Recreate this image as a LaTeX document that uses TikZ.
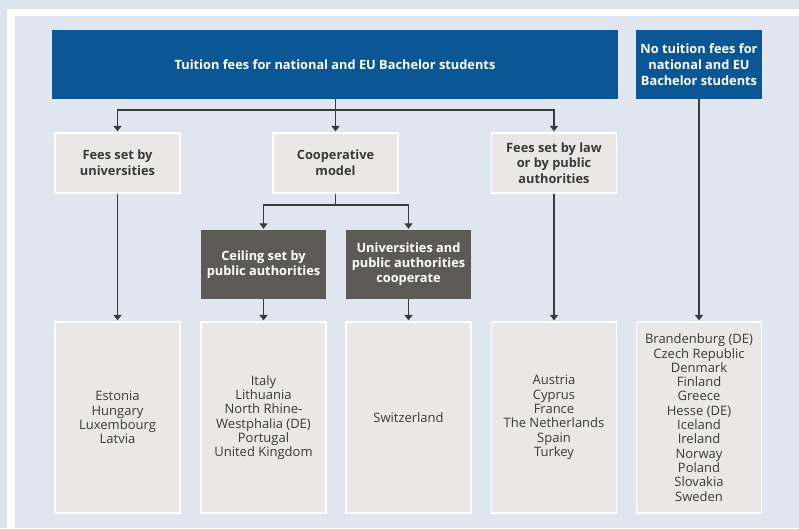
\documentclass[tikz,border=0pt]{standalone}
\usepackage{fontspec}
\setmainfont{Open Sans}
\usetikzlibrary{arrows.meta}
\definecolor{outerbg}{HTML}{DCE4EE}
\definecolor{panelbg}{HTML}{DFE6F0}
\definecolor{eublue}{HTML}{0B5795}
\definecolor{darkbox}{HTML}{5B5A55}
\definecolor{lightbox}{HTML}{E9E8E6}
\definecolor{txt}{HTML}{3A3A3A}
\definecolor{linec}{HTML}{3A3A3A}
\tikzset{
  bluebox/.style={fill=eublue, text=white, align=center, inner sep=0pt,
    font=\fontsize{12.8}{15.8}\selectfont\bfseries},
  lightbox2/.style={fill=lightbox, draw=white, line width=1.2pt, text=txt, align=center, inner sep=0pt,
    minimum width=125pt, minimum height=60pt, font=\fontsize{12.8}{15.8}\selectfont\bfseries},
  darkbox2/.style={fill=darkbox, text=white, align=center, inner sep=0pt,
    minimum width=125pt, minimum height=69pt, font=\fontsize{12.8}{15}\selectfont\bfseries},
  listbox/.style={fill=lightbox, draw=white, line width=1.2pt, text=txt, align=center, inner sep=0pt,
    minimum width=125pt, minimum height=191pt, font=\fontsize{13}{14.3}\selectfont},
  conn/.style={draw=linec, line width=1.2pt},
  arr/.style={conn, -{Triangle[width=8pt,length=5.5pt]}, shorten >=1pt}
}
\begin{document}
\begin{tikzpicture}[x=1pt,y=-1pt]
\useasboundingbox (0,0) rectangle (799,528);
\fill[outerbg] (0,0) rectangle (799,528);
\fill[white] (7,9) rectangle (799,528);
\fill[panelbg] (15,16) rectangle (799,528);

\node[bluebox, minimum width=566pt, minimum height=69pt] (top) at (335,64.5) {Tuition fees for national and EU Bachelor students};
\node[bluebox, minimum width=126pt, minimum height=69pt] (nofee) at (699,64.5) {No tuition fees for\\national and EU\\Bachelor students};

\node[lightbox2] (univ) at (117.5,163) {Fees set by\\universities};
\node[lightbox2] (coop) at (335.5,163) {Cooperative\\model};
\node[lightbox2] (law) at (554,163) {Fees set by law\\or by public\\authorities};

\node[darkbox2] (ceil) at (263.5,264.5) {Ceiling set by\\public authorities};
\node[darkbox2] (uco) at (408.5,264.5) {Universities and\\public authorities\\cooperate};

\node[listbox] (b1) at (117.5,417.5) {Estonia\\Hungary\\Luxembourg\\Latvia};
\node[listbox] (b2) at (263.5,417.5) {Italy\\Lithuania\\North Rhine-\\Westphalia (DE)\\Portugal\\United Kingdom};
\node[listbox] (b3) at (408.5,417.5) {Switzerland};
\node[listbox] (b4) at (554,417.5) {Austria\\Cyprus\\France\\The Netherlands\\Spain\\Turkey};
\node[listbox] (b5) at (699,417.5) {Brandenburg (DE)\\Czech Republic\\Denmark\\Finland\\Greece\\Hesse (DE)\\Iceland\\Ireland\\Norway\\Poland\\Slovakia\\Sweden};

\coordinate (j1) at (335.5,110);
\draw[conn] (top.south -| j1) -- (j1);
\draw[arr] (j1) -| (univ.north);
\draw[arr] (j1) -- (coop.north);
\draw[arr] (j1) -| (law.north);

\coordinate (j2) at (335.5,205);
\draw[conn] (coop.south) -- (j2);
\draw[arr] (j2) -| (ceil.north);
\draw[arr] (j2) -| (uco.north);

\draw[arr] (univ.south) -- (b1.north);
\draw[arr] (ceil.south) -- (b2.north);
\draw[arr] (uco.south) -- (b3.north);
\draw[arr] (law.south) -- (b4.north);
\draw[arr] (nofee.south) -- (b5.north);
\end{tikzpicture}
\end{document}
